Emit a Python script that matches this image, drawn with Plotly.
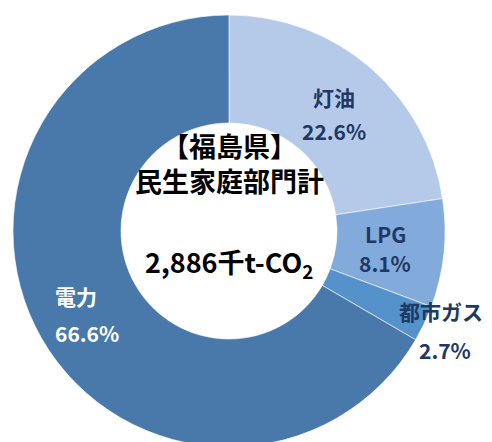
import plotly.graph_objects as go

labels = ["灯油", "LPG", "都市ガス", "電力"]
values = [22.6, 8.1, 2.7, 66.6]
colors = ["#B4CAE8", "#82ABDC", "#5592CB", "#4879AA"]
label_colors = ["#1F3864", "#1F3864", "#1F3864", "#FFFFFF"]
center_title = ["【福島県】", "民生家庭部門計"]
center_total = "2,886千t-CO<sub>2</sub>"

W, H = 492, 442
OFF = 8  # page body margin
cx, cy, R = 229 - OFF, 231 - OFF, 216

fig = go.Figure(go.Pie(
    labels=labels, values=values, sort=False, direction="clockwise", rotation=0,
    hole=0.5, marker=dict(colors=colors, line=dict(color="rgba(255,255,255,0.6)", width=1)),
    textinfo="none", hoverinfo="label+percent", showlegend=False,
    domain=dict(x=[(cx - R) / W, (cx + R) / W], y=[1 - (cy + R) / H, 1 - (cy - R) / H]),
))

font_fam = "Noto Sans CJK JP, Noto Sans, sans-serif"
# label positions (reference pixels) for name / percent
pos = [((334, 97), (334, 131)), ((385, 234), (385, 263)), ((441, 311), (445, 350)), ((76, 296), (87, 333))]


def px(x, y):
    return (x - OFF) / W, 1 - (y - OFF) / H


ann = []
for lab, v, c, ((x1, y1), (x2, y2)) in zip(labels, values, label_colors, pos):
    for (xx, yy), t in (((x1, y1), lab), ((x2, y2), f"{v:.1f}%")):
        ax, ay = px(xx, yy)
        ann.append(dict(x=ax, y=ay, xref="paper", yref="paper", text=f"<b>{t}</b>",
                        xanchor="center", yanchor="middle", showarrow=False,
                        font=dict(size=21, color=c, family=font_fam)))
ax, ay = px(229, 163)
ann.append(dict(x=ax, y=ay, xref="paper", yref="paper",
                text="<br>".join(f"<b>{t}</b>" for t in center_title),
                xanchor="center", yanchor="middle", showarrow=False,
                font=dict(size=27, color="#000000", family=font_fam)))
ax, ay = px(229, 263)
ann.append(dict(x=ax, y=ay, xref="paper", yref="paper", text=f"<b>{center_total}</b>",
                xanchor="center", yanchor="middle", showarrow=False,
                font=dict(size=27, color="#000000", family=font_fam)))

fig.update_layout(width=W, height=H, margin=dict(l=0, r=0, t=0, b=0),
                  paper_bgcolor="white", plot_bgcolor="white", annotations=ann)
fig.write_html("out.html")
